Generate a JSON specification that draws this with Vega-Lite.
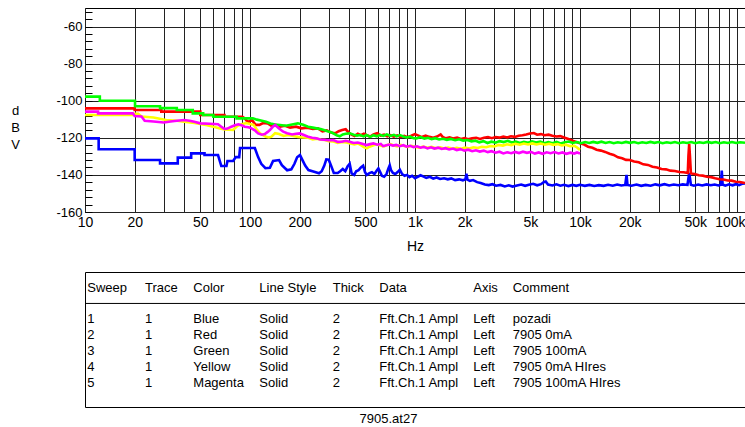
{
"$schema": "https://vega.github.io/schema/vega-lite/v6.json",
"background": "white",
"padding": {"left": 10, "top": 5, "right": 0, "bottom": 0},
"bounds": "flush",
"spacing": 60,
"config": {"font": "Liberation Sans", "view": {"stroke": "#000", "strokeWidth": 1}, "axis": {"labelColor": "#000", "titleColor": "#000", "labelFont": "Liberation Sans", "titleFont": "Liberation Sans", "titleFontWeight": "normal"}},
"datasets": {
"blue": [{"f":10,"v":-120.3},{"f":12.1,"v":-120.3},{"f":12.1,"v":-126.2},{"f":20,"v":-126.2},{"f":20,"v":-132},{"f":28.5,"v":-132},{"f":28.5,"v":-133.8},{"f":36.5,"v":-133.8},{"f":36.5,"v":-130.7},{"f":44,"v":-130.7},{"f":44,"v":-128.4},{"f":53,"v":-128.4},{"f":53,"v":-129.3},{"f":64,"v":-129.3},{"f":67,"v":-135.2},{"f":72,"v":-135.2},{"f":73,"v":-132.5},{"f":79,"v":-132.5},{"f":82,"v":-130.4},{"f":86,"v":-130.4},{"f":87,"v":-125.5},{"f":107,"v":-125.5},{"f":112,"v":-130.4},{"f":117,"v":-134},{"f":124,"v":-136.4},{"f":132,"v":-136.2},{"f":138,"v":-132.5},{"f":150,"v":-132},{"f":156,"v":-134.7},{"f":168,"v":-137.5},{"f":178,"v":-137},{"f":186,"v":-134},{"f":193,"v":-130.5},{"f":201,"v":-129.3},{"f":208,"v":-132},{"f":216,"v":-135},{"f":226,"v":-137.4},{"f":242,"v":-138.2},{"f":262,"v":-139.1},{"f":272,"v":-138},{"f":282,"v":-135},{"f":290,"v":-131.6},{"f":300,"v":-131.8},{"f":310,"v":-135},{"f":322,"v":-139},{"f":340,"v":-139},{"f":352,"v":-138},{"f":365,"v":-136.8},{"f":378,"v":-138},{"f":390,"v":-135.5},{"f":402,"v":-134},{"f":413,"v":-139.2},{"f":428,"v":-140},{"f":440,"v":-138},{"f":455,"v":-137.4},{"f":470,"v":-136},{"f":485,"v":-135},{"f":498,"v":-138.5},{"f":510,"v":-140},{"f":530,"v":-139},{"f":548,"v":-138.5},{"f":568,"v":-139.5},{"f":588,"v":-137.5},{"f":600,"v":-136.5},{"f":615,"v":-138.5},{"f":630,"v":-140.5},{"f":650,"v":-141},{"f":672,"v":-139.5},{"f":690,"v":-136.5},{"f":703,"v":-134.8},{"f":716,"v":-137.5},{"f":735,"v":-139},{"f":760,"v":-139.5},{"f":785,"v":-138.5},{"f":810,"v":-137.2},{"f":835,"v":-139.5},{"f":865,"v":-140.5},{"f":895,"v":-140},{"f":925,"v":-141.2},{"f":960,"v":-140.5},{"f":1000,"v":-141.8},{"f":1040,"v":-141},{"f":1080,"v":-140.2},{"f":1120,"v":-140.8},{"f":1170,"v":-141.6},{"f":1230,"v":-141},{"f":1290,"v":-142},{"f":1350,"v":-141.4},{"f":1420,"v":-142.2},{"f":1500,"v":-141.8},{"f":1580,"v":-142.4},{"f":1660,"v":-141.9},{"f":1750,"v":-142.8},{"f":1850,"v":-142.4},{"f":1950,"v":-142.9},{"f":2020,"v":-142.4},{"f":2050,"v":-139.3},{"f":2080,"v":-142.6},{"f":2150,"v":-143.2},{"f":2250,"v":-142.8},{"f":2380,"v":-143.9},{"f":2500,"v":-144.4},{"f":2650,"v":-145.2},{"f":2800,"v":-145.5},{"f":2950,"v":-145},{"f":3100,"v":-145.8},{"f":3300,"v":-145.4},{"f":3500,"v":-146.2},{"f":3700,"v":-145.6},{"f":3900,"v":-146.3},{"f":4150,"v":-145.7},{"f":4400,"v":-145.2},{"f":4650,"v":-145.9},{"f":4900,"v":-145.3},{"f":5200,"v":-144.8},{"f":5500,"v":-145.6},{"f":5800,"v":-145},{"f":6050,"v":-143.8},{"f":6200,"v":-143.5},{"f":6400,"v":-145.2},{"f":6800,"v":-145.7},{"f":7200,"v":-145.1},{"f":7600,"v":-145.8},{"f":8000,"v":-145.3},{"f":8500,"v":-146},{"f":9000,"v":-145.4},{"f":9500,"v":-145.9},{"f":10000,"v":-145.3},{"f":10700,"v":-145.9},{"f":11400,"v":-145.4},{"f":12200,"v":-146},{"f":13000,"v":-145.5},{"f":13900,"v":-145.9},{"f":14800,"v":-145.3},{"f":15800,"v":-145.8},{"f":16800,"v":-145.2},{"f":17800,"v":-145.7},{"f":18800,"v":-145.4},{"f":19150,"v":-140},{"f":19400,"v":-145.4},{"f":20500,"v":-145.8},{"f":22000,"v":-145.2},{"f":23500,"v":-145.9},{"f":25000,"v":-145.4},{"f":26800,"v":-145.8},{"f":28600,"v":-145.1},{"f":30500,"v":-145.6},{"f":32500,"v":-145},{"f":34700,"v":-145.7},{"f":37000,"v":-145.2},{"f":39500,"v":-145.6},{"f":42000,"v":-145.1},{"f":44800,"v":-145.4},{"f":45900,"v":-139},{"f":47000,"v":-145.3},{"f":49000,"v":-145.8},{"f":52000,"v":-145.2},{"f":55000,"v":-145.7},{"f":58500,"v":-145.1},{"f":62000,"v":-145.6},{"f":65500,"v":-145.2},{"f":69000,"v":-145.7},{"f":71500,"v":-145.3},{"f":72300,"v":-137.7},{"f":73200,"v":-145.2},{"f":76000,"v":-145.8},{"f":80000,"v":-145.1},{"f":84000,"v":-145.6},{"f":88000,"v":-145},{"f":92000,"v":-145.5},{"f":96000,"v":-144.8},{"f":100000,"v":-144.6}],
"red": [{"f":10,"v":-104.1},{"f":20,"v":-104.1},{"f":20,"v":-105},{"f":29,"v":-105},{"f":29,"v":-105.9},{"f":50,"v":-105.9},{"f":50,"v":-107.7},{"f":70,"v":-107.7},{"f":70,"v":-108.6},{"f":90,"v":-108.6},{"f":93,"v":-109.5},{"f":97,"v":-111.5},{"f":103,"v":-110.5},{"f":108,"v":-113},{"f":114,"v":-113},{"f":120,"v":-112},{"f":128,"v":-112.2},{"f":135,"v":-113.5},{"f":143,"v":-113},{"f":152,"v":-114},{"f":163,"v":-113.5},{"f":175,"v":-114.5},{"f":190,"v":-114},{"f":205,"v":-114.9},{"f":222,"v":-114.5},{"f":240,"v":-115.2},{"f":258,"v":-114.9},{"f":275,"v":-116.5},{"f":292,"v":-116},{"f":310,"v":-117.2},{"f":328,"v":-117.6},{"f":345,"v":-116.4},{"f":362,"v":-115.8},{"f":380,"v":-115.4},{"f":395,"v":-117},{"f":410,"v":-118.2},{"f":430,"v":-119},{"f":450,"v":-117.8},{"f":470,"v":-118.6},{"f":490,"v":-117.8},{"f":510,"v":-118.6},{"f":535,"v":-119.3},{"f":560,"v":-118.2},{"f":590,"v":-117.5},{"f":620,"v":-118.8},{"f":650,"v":-118.3},{"f":680,"v":-119.2},{"f":710,"v":-118.6},{"f":745,"v":-119.4},{"f":780,"v":-118.7},{"f":820,"v":-119.5},{"f":860,"v":-119},{"f":900,"v":-119.7},{"f":950,"v":-118.9},{"f":1000,"v":-118},{"f":1050,"v":-118.8},{"f":1100,"v":-119.6},{"f":1160,"v":-118.8},{"f":1220,"v":-119.5},{"f":1290,"v":-120},{"f":1360,"v":-119.3},{"f":1430,"v":-118.2},{"f":1470,"v":-119.5},{"f":1540,"v":-120.3},{"f":1620,"v":-119.8},{"f":1700,"v":-120.4},{"f":1800,"v":-119.9},{"f":1900,"v":-120.6},{"f":2000,"v":-120.2},{"f":2100,"v":-120.8},{"f":2220,"v":-120.3},{"f":2350,"v":-120},{"f":2480,"v":-120.6},{"f":2620,"v":-120},{"f":2770,"v":-119.6},{"f":2920,"v":-120.2},{"f":3080,"v":-119.6},{"f":3250,"v":-119.9},{"f":3430,"v":-119.3},{"f":3620,"v":-119.8},{"f":3820,"v":-119.2},{"f":4030,"v":-119.5},{"f":4250,"v":-118.9},{"f":4480,"v":-118.6},{"f":4720,"v":-118.2},{"f":4980,"v":-117.7},{"f":5250,"v":-117.4},{"f":5500,"v":-118.3},{"f":5800,"v":-118},{"f":6100,"v":-118.6},{"f":6450,"v":-118.3},{"f":6800,"v":-118.9},{"f":7200,"v":-119.3},{"f":7600,"v":-119.1},{"f":8000,"v":-119.8},{"f":8500,"v":-120.6},{"f":9000,"v":-121.5},{"f":9500,"v":-122.3},{"f":10000,"v":-123},{"f":10600,"v":-123.6},{"f":11200,"v":-124.8},{"f":11900,"v":-125.4},{"f":12600,"v":-126.4},{"f":13400,"v":-126.9},{"f":14200,"v":-127.6},{"f":15100,"v":-128.6},{"f":16000,"v":-129.2},{"f":17000,"v":-130.5},{"f":18000,"v":-131},{"f":19000,"v":-131.9},{"f":20000,"v":-132},{"f":21300,"v":-132.8},{"f":22700,"v":-133.2},{"f":24200,"v":-134.3},{"f":25800,"v":-134.6},{"f":27500,"v":-135.6},{"f":29300,"v":-136},{"f":31200,"v":-136.8},{"f":33200,"v":-137},{"f":35300,"v":-137.7},{"f":37600,"v":-137.9},{"f":40000,"v":-138.4},{"f":42500,"v":-138.6},{"f":45000,"v":-139},{"f":45400,"v":-130},{"f":45900,"v":-123.3},{"f":46400,"v":-130},{"f":47000,"v":-139.2},{"f":49500,"v":-139.5},{"f":52500,"v":-140.2},{"f":55500,"v":-140.4},{"f":58800,"v":-141},{"f":62300,"v":-141.2},{"f":66000,"v":-141.8},{"f":70000,"v":-142.3},{"f":74000,"v":-142.5},{"f":78500,"v":-143},{"f":83000,"v":-143.1},{"f":88000,"v":-143.7},{"f":93000,"v":-143.8},{"f":100000,"v":-144.4}],
"green": [{"f":10,"v":-97.8},{"f":12.3,"v":-97.8},{"f":12.3,"v":-100},{"f":20.1,"v":-100},{"f":20.1,"v":-103},{"f":28.5,"v":-103},{"f":28.5,"v":-104},{"f":36,"v":-104},{"f":36,"v":-105},{"f":45,"v":-105},{"f":45,"v":-106.8},{"f":52,"v":-106.8},{"f":52,"v":-107.7},{"f":60,"v":-107.7},{"f":60,"v":-108.6},{"f":83,"v":-108.6},{"f":83,"v":-109.5},{"f":104,"v":-109.5},{"f":110,"v":-110.2},{"f":118,"v":-110.8},{"f":125,"v":-111.3},{"f":133,"v":-112.3},{"f":142,"v":-112.8},{"f":152,"v":-113.1},{"f":165,"v":-113.5},{"f":180,"v":-112.8},{"f":195,"v":-112.2},{"f":210,"v":-113},{"f":225,"v":-114},{"f":240,"v":-114.5},{"f":253,"v":-114.9},{"f":268,"v":-115.3},{"f":280,"v":-115.8},{"f":295,"v":-116.5},{"f":310,"v":-117},{"f":320,"v":-117.6},{"f":335,"v":-118.6},{"f":350,"v":-119.2},{"f":365,"v":-118.2},{"f":380,"v":-117.8},{"f":402,"v":-117.6},{"f":425,"v":-118.3},{"f":445,"v":-118.8},{"f":466,"v":-118.5},{"f":488,"v":-119.2},{"f":508,"v":-118.5},{"f":535,"v":-119.5},{"f":560,"v":-118.6},{"f":587,"v":-119.2},{"f":615,"v":-118.4},{"f":642,"v":-119},{"f":675,"v":-118.2},{"f":710,"v":-119},{"f":745,"v":-118.4},{"f":775,"v":-119.2},{"f":810,"v":-118.5},{"f":850,"v":-119.3},{"f":890,"v":-119.8},{"f":935,"v":-119.4},{"f":980,"v":-120.2},{"f":1020,"v":-120.3},{"f":1080,"v":-119.6},{"f":1140,"v":-120.4},{"f":1200,"v":-120},{"f":1260,"v":-120.7},{"f":1330,"v":-120.2},{"f":1400,"v":-120.9},{"f":1480,"v":-120.5},{"f":1560,"v":-121.1},{"f":1650,"v":-120.6},{"f":1750,"v":-121.3},{"f":1850,"v":-120.8},{"f":1960,"v":-121.5},{"f":2080,"v":-121.2},{"f":2200,"v":-121.9},{"f":2320,"v":-121.5},{"f":2450,"v":-122.4},{"f":2600,"v":-121.8},{"f":2750,"v":-122.8},{"f":2900,"v":-122.1},{"f":3080,"v":-122.6},{"f":3250,"v":-121.8},{"f":3450,"v":-122.3},{"f":3650,"v":-121.6},{"f":3850,"v":-122.5},{"f":4080,"v":-122},{"f":4320,"v":-122.8},{"f":4570,"v":-122.2},{"f":4840,"v":-122.7},{"f":5120,"v":-121.9},{"f":5420,"v":-122.5},{"f":5740,"v":-122},{"f":6080,"v":-122.9},{"f":6430,"v":-122.3},{"f":6810,"v":-122.9},{"f":7210,"v":-122.2},{"f":7630,"v":-123},{"f":8080,"v":-122.4},{"f":8550,"v":-122},{"f":9050,"v":-122.8},{"f":9580,"v":-122.3},{"f":10140,"v":-122.9},{"f":10740,"v":-122.3},{"f":11370,"v":-122.8},{"f":12030,"v":-122.2},{"f":12740,"v":-122.7},{"f":13490,"v":-122.1},{"f":14280,"v":-122.8},{"f":15110,"v":-122.3},{"f":16000,"v":-122.9},{"f":16940,"v":-122.4},{"f":17930,"v":-122.8},{"f":18980,"v":-122.2},{"f":20090,"v":-122.7},{"f":21270,"v":-122.3},{"f":22520,"v":-122.9},{"f":23830,"v":-122.4},{"f":25230,"v":-122.8},{"f":26710,"v":-122.2},{"f":28270,"v":-122.7},{"f":29930,"v":-122.3},{"f":31680,"v":-122.9},{"f":33540,"v":-122.4},{"f":35500,"v":-122.8},{"f":37580,"v":-122.3},{"f":39780,"v":-122.9},{"f":42110,"v":-122.4},{"f":44580,"v":-122.8},{"f":47190,"v":-122.3},{"f":49950,"v":-122.9},{"f":52870,"v":-122.4},{"f":55970,"v":-122.8},{"f":59250,"v":-122.2},{"f":62720,"v":-122.7},{"f":66390,"v":-122.3},{"f":70280,"v":-122.9},{"f":74400,"v":-122.4},{"f":78750,"v":-122.8},{"f":83360,"v":-122.3},{"f":88250,"v":-122.8},{"f":93420,"v":-122.4},{"f":100000,"v":-122.7}],
"yellow": [{"f":10,"v":-107.7},{"f":19.5,"v":-107.7},{"f":20,"v":-107},{"f":21,"v":-107},{"f":22,"v":-108.5},{"f":26,"v":-109},{"f":31,"v":-110.4},{"f":36,"v":-110.8},{"f":41,"v":-111.5},{"f":46,"v":-112},{"f":50,"v":-112.5},{"f":55,"v":-113.2},{"f":60,"v":-114},{"f":65,"v":-114.8},{"f":70,"v":-115.5},{"f":79,"v":-115.8},{"f":84,"v":-113.5},{"f":90,"v":-112.5},{"f":95,"v":-112},{"f":100,"v":-112.5},{"f":105,"v":-113},{"f":110,"v":-115.5},{"f":115,"v":-117.6},{"f":120,"v":-118.5},{"f":125,"v":-119.4},{"f":130,"v":-119.8},{"f":135,"v":-119.4},{"f":142,"v":-117.5},{"f":150,"v":-118},{"f":160,"v":-119},{"f":170,"v":-118.5},{"f":183,"v":-119},{"f":195,"v":-119.5},{"f":210,"v":-119.8},{"f":225,"v":-120},{"f":240,"v":-120.8},{"f":255,"v":-120.5},{"f":270,"v":-121},{"f":285,"v":-121.2},{"f":300,"v":-121.8},{"f":320,"v":-122},{"f":340,"v":-122.8},{"f":360,"v":-122.2},{"f":385,"v":-122.5},{"f":405,"v":-123},{"f":430,"v":-123.5},{"f":450,"v":-123},{"f":470,"v":-124},{"f":490,"v":-125},{"f":510,"v":-125.7},{"f":530,"v":-124.8},{"f":560,"v":-124},{"f":586,"v":-123.5},{"f":615,"v":-124.2},{"f":650,"v":-124.6},{"f":680,"v":-123.8},{"f":710,"v":-123.4},{"f":745,"v":-124.1},{"f":780,"v":-124.6},{"f":820,"v":-123.8},{"f":860,"v":-124.4},{"f":900,"v":-124.9},{"f":950,"v":-124.3},{"f":1000,"v":-124.8},{"f":1060,"v":-125.3},{"f":1120,"v":-124.7},{"f":1190,"v":-125.4},{"f":1260,"v":-124.9},{"f":1340,"v":-125.6},{"f":1420,"v":-125.1},{"f":1500,"v":-125.7},{"f":1590,"v":-125.3},{"f":1690,"v":-125.9},{"f":1790,"v":-125.4},{"f":1900,"v":-125.9},{"f":2010,"v":-125.3},{"f":2130,"v":-125.8},{"f":2260,"v":-125.1},{"f":2400,"v":-125.5},{"f":2540,"v":-124.8},{"f":2700,"v":-125.1},{"f":2860,"v":-124.4},{"f":3030,"v":-124.6},{"f":3210,"v":-123.8},{"f":3410,"v":-124.2},{"f":3610,"v":-123.5},{"f":3830,"v":-123.9},{"f":4060,"v":-123.2},{"f":4310,"v":-123.7},{"f":4570,"v":-123.1},{"f":4840,"v":-123.6},{"f":5140,"v":-123},{"f":5450,"v":-123.6},{"f":5780,"v":-123.1},{"f":6130,"v":-123.7},{"f":6500,"v":-123.2},{"f":6890,"v":-123.8},{"f":7310,"v":-123.4},{"f":7750,"v":-124.1},{"f":8220,"v":-123.7},{"f":8710,"v":-124.5},{"f":9240,"v":-124.3},{"f":9600,"v":-125.2},{"f":10000,"v":-126.5}],
"magenta": [{"f":10,"v":-105.9},{"f":12,"v":-105.9},{"f":12,"v":-106.8},{"f":19.5,"v":-106.8},{"f":20,"v":-108.2},{"f":22,"v":-108.5},{"f":23,"v":-110.8},{"f":26,"v":-111.2},{"f":30,"v":-111.7},{"f":33,"v":-111.2},{"f":35,"v":-110.9},{"f":40,"v":-110.4},{"f":43,"v":-110.8},{"f":46,"v":-111.3},{"f":50,"v":-112.2},{"f":57,"v":-112.4},{"f":64,"v":-112.7},{"f":67,"v":-114},{"f":70,"v":-115.2},{"f":73,"v":-115},{"f":77,"v":-114},{"f":81,"v":-113.2},{"f":85,"v":-112.7},{"f":89,"v":-113.2},{"f":93,"v":-114},{"f":98,"v":-114.3},{"f":102,"v":-114.9},{"f":107,"v":-116},{"f":112,"v":-117.6},{"f":118,"v":-118.3},{"f":123,"v":-118},{"f":128,"v":-116.8},{"f":132,"v":-115.8},{"f":137,"v":-114.2},{"f":142,"v":-113.1},{"f":150,"v":-115},{"f":159,"v":-116.7},{"f":168,"v":-117.5},{"f":180,"v":-118.2},{"f":190,"v":-117.8},{"f":200,"v":-117.6},{"f":212,"v":-118.5},{"f":225,"v":-119.4},{"f":238,"v":-120},{"f":253,"v":-120.3},{"f":266,"v":-120.9},{"f":280,"v":-121},{"f":300,"v":-121.3},{"f":320,"v":-121.2},{"f":340,"v":-122.2},{"f":360,"v":-122.1},{"f":380,"v":-121.6},{"f":402,"v":-122.1},{"f":425,"v":-122.8},{"f":450,"v":-122.5},{"f":478,"v":-123.2},{"f":508,"v":-123.9},{"f":535,"v":-123.4},{"f":560,"v":-123},{"f":590,"v":-123.7},{"f":620,"v":-123.3},{"f":640,"v":-124.5},{"f":670,"v":-124},{"f":700,"v":-123.6},{"f":735,"v":-124.2},{"f":770,"v":-123.8},{"f":810,"v":-124.5},{"f":850,"v":-124},{"f":890,"v":-124.8},{"f":935,"v":-124.3},{"f":980,"v":-125},{"f":1030,"v":-124.6},{"f":1080,"v":-125.3},{"f":1130,"v":-124.9},{"f":1190,"v":-125.7},{"f":1250,"v":-125.1},{"f":1310,"v":-125.8},{"f":1380,"v":-125.3},{"f":1450,"v":-126},{"f":1530,"v":-125.6},{"f":1610,"v":-126.3},{"f":1700,"v":-125.8},{"f":1790,"v":-126.6},{"f":1890,"v":-126.1},{"f":1990,"v":-126.9},{"f":2100,"v":-126.4},{"f":2220,"v":-127.2},{"f":2340,"v":-126.7},{"f":2470,"v":-127.4},{"f":2610,"v":-126.9},{"f":2760,"v":-127.7},{"f":2910,"v":-127.2},{"f":3080,"v":-128},{"f":3250,"v":-127.5},{"f":3430,"v":-128.4},{"f":3620,"v":-127.8},{"f":3830,"v":-128.3},{"f":4040,"v":-127.6},{"f":4270,"v":-128.2},{"f":4510,"v":-127.5},{"f":4770,"v":-128.1},{"f":5040,"v":-127.6},{"f":5320,"v":-128.5},{"f":5620,"v":-127.9},{"f":5940,"v":-128.6},{"f":6280,"v":-127.8},{"f":6630,"v":-128.3},{"f":7010,"v":-127.7},{"f":7410,"v":-128.4},{"f":7830,"v":-127.9},{"f":8270,"v":-128.6},{"f":8740,"v":-128},{"f":9230,"v":-128.5},{"f":9600,"v":-127.9},{"f":10000,"v":-128.4}],
"table": [
{"r":-1,"c":1,"t":"Sweep"},{"r":-1,"c":2,"t":"Trace"},{"r":-1,"c":3,"t":"Color"},{"r":-1,"c":4,"t":"Line Style"},{"r":-1,"c":5,"t":"Thick"},{"r":-1,"c":6,"t":"Data"},{"r":-1,"c":7,"t":"Axis"},{"r":-1,"c":8,"t":"Comment"},
{"r":1,"c":1,"t":"1"},{"r":1,"c":2,"t":"1"},{"r":1,"c":3,"t":"Blue"},{"r":1,"c":4,"t":"Solid"},{"r":1,"c":5,"t":"2"},{"r":1,"c":6,"t":"Fft.Ch.1 Ampl"},{"r":1,"c":7,"t":"Left"},{"r":1,"c":8,"t":"pozadi"},
{"r":2,"c":1,"t":"2"},{"r":2,"c":2,"t":"1"},{"r":2,"c":3,"t":"Red"},{"r":2,"c":4,"t":"Solid"},{"r":2,"c":5,"t":"2"},{"r":2,"c":6,"t":"Fft.Ch.1 Ampl"},{"r":2,"c":7,"t":"Left"},{"r":2,"c":8,"t":"7905 0mA"},
{"r":3,"c":1,"t":"3"},{"r":3,"c":2,"t":"1"},{"r":3,"c":3,"t":"Green"},{"r":3,"c":4,"t":"Solid"},{"r":3,"c":5,"t":"2"},{"r":3,"c":6,"t":"Fft.Ch.1 Ampl"},{"r":3,"c":7,"t":"Left"},{"r":3,"c":8,"t":"7905 100mA"},
{"r":4,"c":1,"t":"4"},{"r":4,"c":2,"t":"1"},{"r":4,"c":3,"t":"Yellow"},{"r":4,"c":4,"t":"Solid"},{"r":4,"c":5,"t":"2"},{"r":4,"c":6,"t":"Fft.Ch.1 Ampl"},{"r":4,"c":7,"t":"Left"},{"r":4,"c":8,"t":"7905 0mA HIres"},
{"r":5,"c":1,"t":"5"},{"r":5,"c":2,"t":"1"},{"r":5,"c":3,"t":"Magenta"},{"r":5,"c":4,"t":"Solid"},{"r":5,"c":5,"t":"2"},{"r":5,"c":6,"t":"Fft.Ch.1 Ampl"},{"r":5,"c":7,"t":"Left"},{"r":5,"c":8,"t":"7905 100mA HIres"}
]
},
"vconcat": [
{
"width": 660, "height": 204,
"encoding": {
"x": {"field": "f", "type": "quantitative", "scale": {"type": "log", "domain": [10, 100000], "nice": false},
 "axis": {"values": [10,20,30,40,50,60,70,80,90,100,200,300,400,500,600,700,800,900,1000,2000,3000,4000,5000,6000,7000,8000,9000,10000,20000,30000,40000,50000,60000,70000,80000,90000,100000],
 "labelExpr": "indexof([10,20,50,100,200,500,1000,2000,5000,10000,20000,50000,100000], datum.value) >= 0 ? (datum.value >= 1000 ? (datum.value / 1000) + 'k' : datum.value + '') : ''",
 "labelAlign": {"condition": {"test": "datum.value >= 100000", "value": "right"}, "value": "center"},
 "labelFlush": false, "labelOverlap": false, "labelBound": false,
 "grid": true, "gridColor": "#222", "gridWidth": 1, "gridOpacity": 1,
 "ticks": false, "domain": false, "labelFontSize": 14, "labelPadding": 3,
 "title": "Hz", "titleFontSize": 14, "titlePadding": 10}},
"y": {"field": "v", "type": "quantitative", "scale": {"domain": [-160, -50], "nice": false, "zero": false},
 "axis": {"values": [-160,-156,-152,-148,-144,-140,-136,-132,-128,-124,-120,-116,-112,-108,-104,-100,-96,-92,-88,-84,-80,-76,-72,-68,-64,-60,-56,-52],
 "labelExpr": "datum.value % 20 === 0 ? datum.value + '' : ''",
 "grid": true, "gridColor": "#222", "gridWidth": 1, "gridOpacity": {"condition": {"test": "datum.value % 20 === 0", "value": 1}, "value": 0},
 "ticks": true, "tickSize": -7, "tickColor": "#000", "tickWidth": 1, "domain": false,
 "labelFontSize": 13, "labelPadding": 10, "labelOverlap": false,
 "title": ["d", "B", "V"], "titleAngle": 0, "titleX": -70, "titleY": 102, "titleAlign": "center", "titleBaseline": "middle", "titleLineHeight": 17, "titleFontSize": 13}}
},
"layer": [
{"data": {"name": "blue"}, "mark": {"type": "line", "color": "#0000ff", "strokeWidth": 2.6, "clip": true}},
{"data": {"name": "red"}, "mark": {"type": "line", "color": "#ff0000", "strokeWidth": 2.6, "clip": true}},
{"data": {"name": "green"}, "mark": {"type": "line", "color": "#00ff00", "strokeWidth": 2.6, "clip": true}},
{"data": {"name": "yellow"}, "mark": {"type": "line", "color": "#ffff00", "strokeWidth": 2.6, "clip": true}},
{"data": {"name": "magenta"}, "mark": {"type": "line", "color": "#ff00ff", "strokeWidth": 2.6, "clip": true}},
{"data": {"values": [{"t": "Ap"}]}, "mark": {"type": "text", "font": "Liberation Sans", "fontStyle": "italic", "fontWeight": "bold", "fontSize": 20, "color": "#1e78be"},
 "encoding": {"x": {"datum": 77000}, "y": {"datum": -58.6}, "text": {"field": "t"}}}
]
},
{
"width": 660, "height": 135,
"data": {"name": "table"},
"layer": [
{"mark": {"type": "text", "align": "left", "baseline": "middle", "fontSize": 13, "font": "Liberation Sans", "color": "#000"},
 "encoding": {
 "x": {"field": "c", "type": "quantitative", "scale": {"domain": [1,2,3,4,5,6,7,8], "range": [2.3,60,108.3,174.3,247.7,294.3,388.3,427.7], "zero": false, "nice": false},
  "axis": {"title": "7905.at27", "labels": false, "ticks": false, "domain": false, "grid": false, "titleX": 303, "titleAlign": "center", "titleBaseline": "top", "titlePadding": 5, "titleFontSize": 13}},
 "y": {"field": "r", "type": "quantitative", "scale": {"domain": [-1.984, 6.533], "reverse": true, "zero": false, "nice": false}, "axis": null},
 "text": {"field": "t"}}},
{"data": {"values": [{}]}, "mark": {"type": "rule", "color": "#000", "strokeWidth": 1}, "encoding": {"y": {"datum": 0}}}
]
}
]
}
